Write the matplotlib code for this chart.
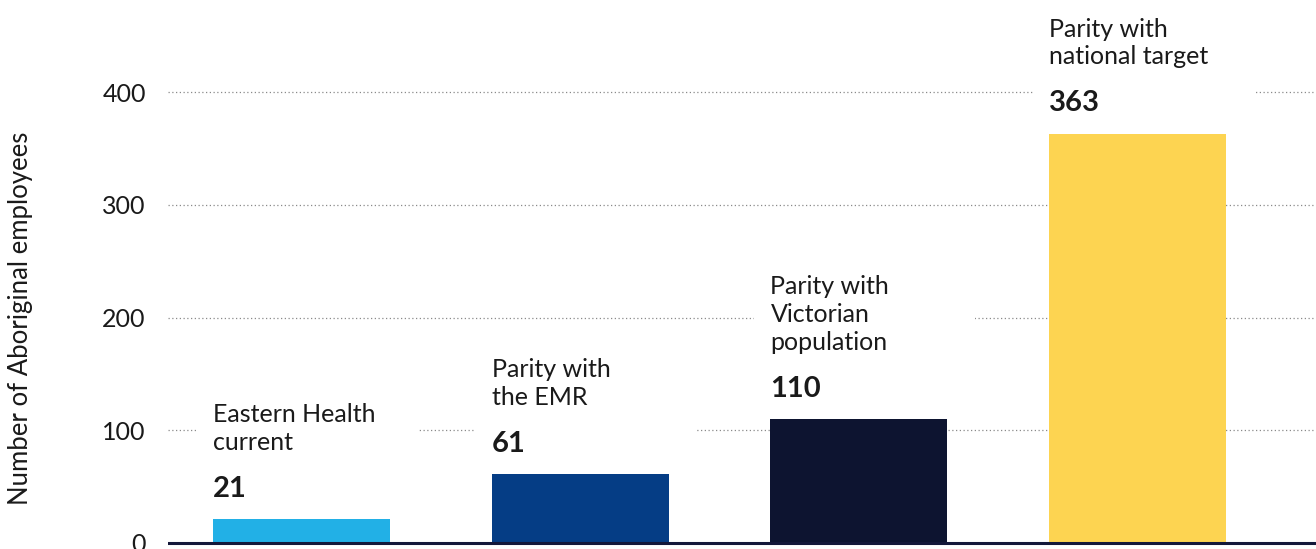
import matplotlib
matplotlib.use("Agg")
import matplotlib.pyplot as plt
from matplotlib.patches import Rectangle

# data
categories = ["Eastern Health\ncurrent", "Parity with\nthe EMR",
              "Parity with\nVictorian\npopulation", "Parity with\nnational target"]
values = [21, 61, 110, 363]
colors = ["#22B0E6", "#053D85", "#0D1430", "#FDD451"]
yticks = [0, 100, 200, 300, 400]

plt.rcParams['font.family'] = ['Lato', 'DejaVu Sans']
TEXT = "#1a1a1a"

W, H, DPI = 1316, 549, 100
fig = plt.figure(figsize=(W / DPI, H / DPI), dpi=DPI)
ax = fig.add_axes([168 / W, 0, 1 - 168 / W, 1])

px = 100 / 112.75  # data units per pixel (y)
ax.set_ylim(-6 * px, 400 + 92 * px)
ax.set_xlim(-0.479, 3.64)

bar_w = 0.635
xs = range(len(values))
ax.bar(xs, values, width=bar_w, color=colors, zorder=3)

# dotted gridlines
for t in yticks[1:]:
    ax.axhline(t, color="#8a8a8a", lw=0.9, ls=(0, (1, 2)), zorder=1)
ax.axhline(0, color="#14183A", lw=2.2, zorder=4)

# white boxes behind labels that break the gridlines
xpx = 1 / 278.7
for x, v in zip(xs, values):
    left = x - bar_w / 2 - 16 * xpx
    ax.add_patch(Rectangle((left, v), bar_w + 44 * xpx, 120 * px,
                           facecolor="white", edgecolor="none", zorder=2))

for x, v, lab in zip(xs, values, categories):
    left = x - bar_w / 2
    ax.annotate(str(v), (left, v), xytext=(0, 16), textcoords="offset points",
                ha="left", va="baseline", fontsize=21, fontweight="bold",
                color=TEXT, zorder=5)
    ax.annotate(lab, (left, v), xytext=(0, 47), textcoords="offset points",
                ha="left", va="bottom", fontsize=18, color=TEXT,
                linespacing=1.25, zorder=5)

ax.set_yticks(yticks)
ax.set_yticklabels([str(t) for t in yticks])
ax.tick_params(axis="y", length=0, pad=16, labelsize=18, labelcolor=TEXT)
ax.set_xticks([])
for s in ax.spines.values():
    s.set_visible(False)

ax.set_ylabel("Number of Aboriginal employees", fontsize=18.5, color=TEXT)
ax.yaxis.set_label_coords((33 - 168) / (W - 168), (H - 318) / H)

fig.savefig("out.png", dpi=DPI)
